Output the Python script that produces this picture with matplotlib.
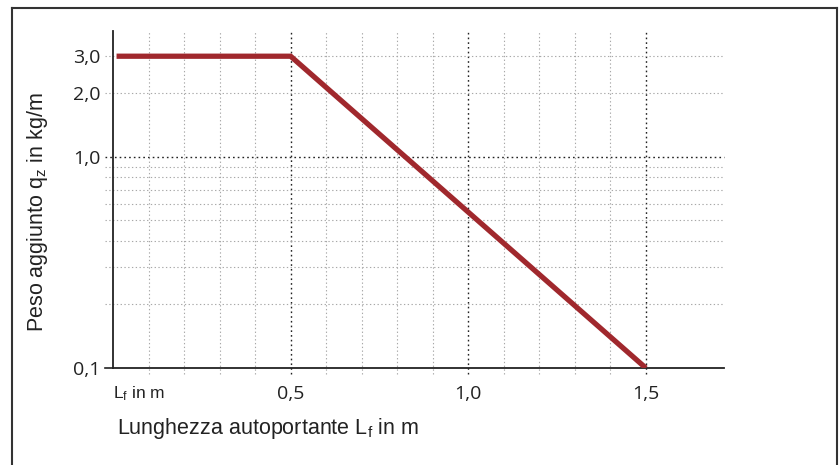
import matplotlib
matplotlib.use("Agg")
import matplotlib.pyplot as plt
from matplotlib.lines import Line2D

plt.rcParams['mathtext.fontset'] = 'custom'
plt.rcParams['mathtext.rm'] = 'Liberation Sans'
plt.rcParams['mathtext.it'] = 'Liberation Sans:italic'

# data
length_m = [0.01, 0.5, 1.5]
weight_kg_m = [3.0, 3.0, 0.1]

y_ticks = [0.1, 1.0, 2.0, 3.0]
y_tick_labels = ["0,1", "1,0", "2,0", "3,0"]
x_ticks = [0.5, 1.0, 1.5]
x_tick_labels = ["0,5", "1,0", "1,5"]

x_grid = [0.1, 0.2, 0.3, 0.4, 0.5, 0.6, 0.7, 0.8, 0.9, 1.0, 1.1, 1.2, 1.3, 1.4, 1.5]
x_grid_major = [0.5, 1.0, 1.5]
y_grid = [0.2, 0.3, 0.4, 0.5, 0.6, 0.7, 0.8, 0.9, 1.0, 2.0, 3.0]
y_grid_major = [1.0]

x_min, x_max = 0.0, 1.72
y_min, y_max = 0.1, 3.95

fig = plt.figure(figsize=(8.4, 4.65), dpi=100)
W, H = 840, 465
ax = fig.add_axes([113 / W, 97 / H, (724 - 113) / W, (368 - 31) / H])
ax.set_yscale('log')
ax.set_xlim(x_min, x_max)
ax.set_ylim(y_min, y_max)

# grid lines, running a little past the axes like ticks
gray = '#a8a8a8'
for xg in x_grid:
    major = xg in x_grid_major
    ax.plot([xg, xg], [0.0935, y_max], clip_on=False,
            color='#222222' if major else gray,
            lw=1.0 if major else 0.8,
            ls=(0, (1.2, 2.2)), zorder=1)
for yg in y_grid:
    major = yg in y_grid_major
    ax.plot([-0.022, x_max], [yg, yg], clip_on=False,
            color='#222222' if major else gray,
            lw=1.0 if major else 0.8,
            ls=(0, (1.2, 2.2)), zorder=1)
# solid tick at 0,1
ax.plot([-0.022, 0], [0.1, 0.1], clip_on=False, color='#222222', lw=1.2)

ax.plot(length_m, weight_kg_m, color='#a0282d', lw=3.8,
        solid_capstyle='butt', solid_joinstyle='miter', zorder=3)

for side in ['top', 'right']:
    ax.spines[side].set_visible(False)
for side in ['left', 'bottom']:
    ax.spines[side].set_linewidth(1.3)
    ax.spines[side].set_color('#222222')

ax.minorticks_off()
ax.set_yticks(y_ticks, y_tick_labels, fontfamily='Open Sans', fontsize=14)
ax.set_xticks(x_ticks, x_tick_labels, fontfamily='Open Sans', fontsize=14)
ax.minorticks_off()
ax.tick_params(axis='both', length=0, labelcolor='#222222')
ax.tick_params(axis='y', pad=9)
ax.tick_params(axis='x', pad=12.5)

# unit note under the origin
ax.text(0, -0.075, r"L$_\mathrm{f}$ in m", transform=ax.transAxes,
        family='Liberation Sans', fontsize=12.5, color='#222222',
        ha='left', va='center')

fig.text(117 / W, 1 - 428 / H, r"Lunghezza autoportante L$_\mathrm{f}$ in m",
         family='Liberation Sans', fontsize=15.5, color='#222222',
         ha='left', va='center')
fig.text(38 / W, 1 - 212 / H, r"Peso aggiunto q$_\mathrm{z}$ in kg/m",
         family='Liberation Sans', fontsize=15.5, color='#222222',
         rotation=90, ha='center', va='center')

# outer frame (open at the bottom)
frame_kw = dict(color='#333333', lw=1.5, transform=fig.transFigure)
fig.add_artist(Line2D([12 / W, 12 / W], [0, 1 - 8 / H], **frame_kw))
fig.add_artist(Line2D([12 / W, 837 / W], [1 - 8 / H, 1 - 8 / H], **frame_kw))
fig.add_artist(Line2D([837 / W, 837 / W], [0, 1 - 8 / H], **frame_kw))

fig.savefig('out.png', dpi=100)
